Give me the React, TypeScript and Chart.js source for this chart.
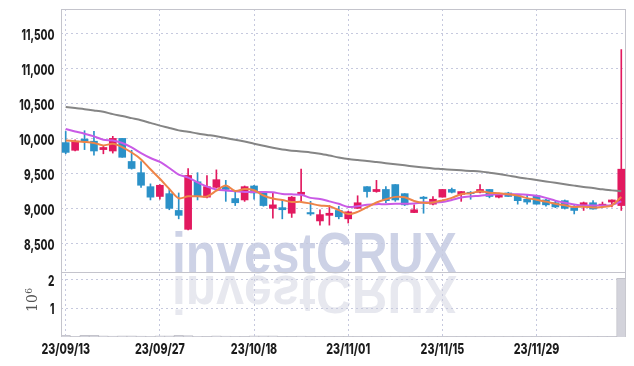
import React, { useEffect, useRef } from "react";
import { Chart, registerables } from "chart.js";
Chart.register(...registerables);

const dates = [
  "23/09/13", "23/09/14", "23/09/15", "23/09/18", "23/09/19", "23/09/20", "23/09/21", "23/09/22", "23/09/25", "23/09/26",
  "23/09/27", "23/10/04", "23/10/05", "23/10/06", "23/10/10", "23/10/11", "23/10/12", "23/10/13", "23/10/16", "23/10/17",
  "23/10/18", "23/10/19", "23/10/20", "23/10/23", "23/10/24", "23/10/25", "23/10/26", "23/10/27", "23/10/30", "23/10/31",
  "23/11/01", "23/11/02", "23/11/03", "23/11/06", "23/11/07", "23/11/08", "23/11/09", "23/11/10", "23/11/13", "23/11/14",
  "23/11/15", "23/11/16", "23/11/17", "23/11/20", "23/11/21", "23/11/22", "23/11/23", "23/11/24", "23/11/27", "23/11/28",
  "23/11/29", "23/11/30", "23/12/01", "23/12/04", "23/12/05", "23/12/06", "23/12/07", "23/12/08", "23/12/11", "23/12/12",
];

const openP = [9940, 9830, 9990, 9960, 9840, 9820, 10000, 9670, 9510, 9310, 9170, 9210, 8970, 8700, 9380, 9160, 9300, 9310, 9140, 9120, 9320, 9230, 9000, 9010, 8930, 9200, 8940, 8820, 8900, 8970, 8850, 9000, 9310, 9240, 9270, 9340, 9210, 8940, 9160, 9060, 9160, 9270, 9200, 9230, 9230, 9270, 9160, 9220, 9180, 9130, 9180, 9120, 9080, 9110, 9010, 9040, 9080, 9040, 9090, 9040];
const highP = [10100, 9980, 10110, 10100, 9900, 10030, 10000, 9830, 9670, 9350, 9340, 9270, 9220, 9570, 9510, 9470, 9550, 9400, 9240, 9320, 9330, 9240, 9220, 9120, 9170, 9560, 9100, 8980, 9040, 9030, 8960, 9180, 9310, 9400, 9310, 9340, 9210, 9050, 9170, 9170, 9270, 9290, 9240, 9240, 9340, 9270, 9220, 9230, 9200, 9200, 9190, 9130, 9110, 9120, 9040, 9090, 9110, 9090, 9120, 11270];
const lowP = [9780, 9820, 9840, 9760, 9780, 9790, 9730, 9560, 9300, 9120, 9130, 8980, 8850, 8690, 9120, 9150, 9290, 9100, 9040, 9100, 9130, 9030, 8860, 8850, 8870, 9090, 8900, 8760, 8760, 8850, 8790, 9000, 9160, 9230, 9080, 9100, 9040, 8940, 8930, 9050, 9160, 9220, 9100, 9130, 9220, 9150, 9150, 9170, 9060, 9060, 9060, 9030, 9010, 8990, 8920, 8970, 8990, 9020, 9020, 8970];
const closeP = [9800, 9960, 9960, 9820, 9870, 10000, 9730, 9570, 9330, 9160, 9330, 9000, 8900, 9470, 9170, 9310, 9410, 9270, 9080, 9310, 9220, 9040, 9050, 8980, 9160, 9230, 8920, 8910, 8930, 8880, 8950, 9080, 9240, 9270, 9110, 9120, 9050, 8980, 9140, 9130, 9270, 9230, 9240, 9210, 9270, 9170, 9190, 9170, 9110, 9090, 9060, 9050, 9020, 9000, 8970, 9080, 8990, 9060, 9120, 9560];

const ma5 = [9970, 9960, 9950, 9935, 9900, 9922, 9876, 9798, 9700, 9558, 9424, 9278, 9144, 9172, 9174, 9170, 9252, 9326, 9248, 9276, 9258, 9184, 9140, 9120, 9090, 9092, 9068, 9040, 9030, 8974, 8918, 8950, 9016, 9084, 9130, 9164, 9158, 9106, 9080, 9084, 9114, 9150, 9202, 9216, 9244, 9224, 9216, 9202, 9182, 9146, 9124, 9096, 9066, 9044, 9020, 9024, 9012, 9020, 9044, 9162];
const ma20 = [10134, 10100, 10067, 10029, 9981, 9971, 9934, 9871, 9791, 9720, 9663, 9577, 9481, 9440, 9370, 9310, 9270, 9255, 9245, 9235, 9235, 9235, 9230, 9205, 9200, 9195, 9150, 9135, 9100, 9065, 9020, 9030, 9050, 9060, 9060, 9065, 9065, 9070, 9085, 9085, 9090, 9120, 9155, 9170, 9180, 9195, 9200, 9200, 9200, 9195, 9180, 9150, 9110, 9080, 9055, 9040, 9040, 9040, 9050, 9100];
const ma60 = [10449, 10433, 10418, 10400, 10380, 10347, 10320, 10290, 10260, 10222, 10183, 10150, 10115, 10095, 10070, 10050, 10030, 10005, 9980, 9955, 9924, 9895, 9865, 9840, 9825, 9812, 9800, 9780, 9755, 9728, 9705, 9690, 9678, 9662, 9646, 9630, 9615, 9598, 9583, 9570, 9562, 9552, 9543, 9535, 9527, 9510, 9490, 9468, 9445, 9425, 9405, 9385, 9365, 9345, 9325, 9306, 9290, 9272, 9257, 9243];

const volume = [60000, 20000, 55000, 55000, 40000, 35000, 40000, 40000, 35000, 25000, 45000, 40000, 60000, 50000, 25000, 15000, 40000, 35000, 20000, 15000, 45000, 40000, 45000, 15000, 12000, 30000, 12000, 10000, 10000, 12000, 15000, 10000, 12000, 10000, 8000, 10000, 8000, 10000, 8000, 8000, 10000, 8000, 8000, 8000, 10000, 8000, 6000, 8000, 8000, 6000, 8000, 8000, 6000, 6000, 8000, 6000, 6000, 8000, 10000, 2050000];

const priceTicks = [8500, 9000, 9500, 10000, 10500, 11000, 11500];
const volTicks = [1000000, 2000000];
const volTickLabels = ["1", "2"];

const UP = "#e2195f";
const DOWN = "#2b91c8";
const GRID = "#c6c9de";
const FRAME = "#c4c4cc";
const LABEL_FONT = "800 15px Inter, 'Liberation Sans', sans-serif";

const watermark = {
  id: "watermark",
  beforeDraw(chart: any) {
    const ctx = chart.ctx;
    const text = "investCRUX";
    ctx.save();
    ctx.font = "bold 58px 'Liberation Sans', Arial, sans-serif";
    const w = ctx.measureText(text).width;
    const sx = 285 / w;
    ctx.fillStyle = "#cdd2e6";
    ctx.textBaseline = "alphabetic";
    ctx.translate(172, 273);
    ctx.scale(sx, 1);
    ctx.fillText(text, 0, 0);
    ctx.restore();
    ctx.save();
    ctx.font = "bold 58px 'Liberation Sans', Arial, sans-serif";
    ctx.fillStyle = "#e7e8ef";
    ctx.textBaseline = "alphabetic";
    ctx.translate(172, 276);
    ctx.scale(sx, -0.92);
    ctx.fillText(text, 0, 0);
    ctx.restore();
  },
};

function drawScaled(ctx: any, text: string, x: number, y: number, sx: number, align: "right" | "center") {
  const w = ctx.measureText(text).width * sx;
  const x0 = align === "right" ? x - w : x - w / 2;
  ctx.save();
  ctx.translate(x0, y);
  ctx.scale(sx, 1);
  ctx.fillText(text, 0, 0);
  ctx.restore();
}

const frames = {
  id: "frames",
  beforeDatasetsDraw(chart: any) {
    const ctx = chart.ctx;
    const { left, right } = chart.chartArea;
    const ys = chart.scales.y;
    const yv = chart.scales.yVol;
    ctx.save();
    ctx.strokeStyle = FRAME;
    ctx.lineWidth = 1;
    ctx.strokeRect(Math.round(left) + 0.5, Math.round(ys.top) + 0.5, Math.round(right - left) - 1, Math.round(ys.bottom - ys.top));
    ctx.strokeRect(Math.round(left) + 0.5, Math.round(yv.top) + 0.5, Math.round(right - left) - 1, Math.round(yv.bottom - yv.top) - 1);
    ctx.restore();
  },
  afterDraw(chart: any) {
    const ctx = chart.ctx;
    const ys = chart.scales.y;
    const yv = chart.scales.yVol;
    const xs = chart.scales.x;
    ctx.save();
    ctx.fillStyle = "#1c1c1c";
    ctx.textBaseline = "alphabetic";
    ctx.font = LABEL_FONT;
    const sy = 35.3 / ctx.measureText("10,000").width;
    priceTicks.forEach((v) => {
      drawScaled(ctx, v.toLocaleString("en-US"), 54.5, ys.getPixelForValue(v) + 6.5, sy, "right");
    });
    volTicks.forEach((v, i) => {
      drawScaled(ctx, volTickLabels[i], 54.5, yv.getPixelForValue(v) + 6, sy, "right");
    });
    const sxx = 50 / ctx.measureText("23/09/27").width;
    dates.forEach((d, i) => {
      if (i % 10 === 0) drawScaled(ctx, d, xs.getPixelForValue(i), 354, sxx, "center");
    });
    ctx.restore();

    ctx.save();
    ctx.translate(37, 312);
    ctx.rotate(-Math.PI / 2);
    ctx.fillStyle = "#555";
    ctx.textBaseline = "alphabetic";
    ctx.font = "14px 'DejaVu Serif', serif";
    ctx.fillText("10", 0, 0);
    const w = ctx.measureText("10").width;
    ctx.font = "9px 'DejaVu Serif', serif";
    ctx.fillText("6", w + 0.5, -5);
    ctx.restore();
  },
};

export default function App() {
  const ref = useRef<HTMLCanvasElement>(null);
  useEffect(() => {
    const idx = dates.map((_, i) => i);
    const bodies = idx.map((i) => [openP[i], closeP[i]]);
    const wicks = idx.map((i) => [lowP[i], highP[i]]);
    const colors = idx.map((i) => (closeP[i] >= openP[i] ? UP : DOWN));
    const chart = new Chart(ref.current!, {
      type: "bar",
      data: {
        labels: dates,
        datasets: [
          { type: "line", label: "MA5", data: ma5, yAxisID: "y", borderColor: "#ee8448", borderWidth: 2, pointRadius: 0, tension: 0.3, order: 0 },
          { type: "line", label: "MA20", data: ma20, yAxisID: "y", borderColor: "#c95ae6", borderWidth: 2, pointRadius: 0, tension: 0.3, order: 0 },
          { type: "line", label: "MA60", data: ma60, yAxisID: "y", borderColor: "#858585", borderWidth: 2, pointRadius: 0, tension: 0.3, order: 0 },
          { type: "bar", label: "body", data: bodies as any, yAxisID: "y", backgroundColor: colors, borderWidth: 0, barThickness: 7, grouped: false, minBarLength: 1, order: 1 },
          { type: "bar", label: "wick", data: wicks as any, yAxisID: "y", backgroundColor: colors, borderWidth: 0, barThickness: 1, grouped: false, order: 2 },
          { type: "bar", label: "volume", data: volume, yAxisID: "yVol", backgroundColor: "#d3d3db", borderColor: "#c2c2ca", borderWidth: 1, barPercentage: 1, categoryPercentage: 1, grouped: false, order: 3 },
        ],
      },
      options: {
        animation: false,
        responsive: false,
        devicePixelRatio: 1,
        layout: { padding: { top: 9, right: 8, left: 0, bottom: 0 } },
        plugins: { legend: { display: false }, tooltip: { enabled: false } },
        scales: {
          x: {
            type: "category",
            offset: true,
            grid: { offset: false, color: GRID, drawTicks: false },
            border: { display: false, dash: [2, 3] },
            ticks: { display: false, autoSkip: false },
            afterBuildTicks: (s: any) => {
              s.ticks = s.ticks.filter((t: any) => t.value % 10 === 0);
            },
            afterFit: (s: any) => {
              s.height = 29;
            },
          },
          yVol: {
            type: "linear",
            position: "left",
            stack: "panes",
            stackWeight: 65,
            min: 0,
            max: 2270000,
            grid: { color: GRID, drawTicks: false },
            border: { display: false, dash: [2, 3] },
            ticks: { display: false },
            afterBuildTicks: (s: any) => {
              s.ticks = volTicks.map((v) => ({ value: v }));
            },
            afterFit: (s: any) => {
              s.width = 61;
            },
          },
          y: {
            type: "linear",
            position: "left",
            stack: "panes",
            stackWeight: 263,
            min: 8090,
            max: 11850,
            grid: { color: GRID, drawTicks: false },
            border: { display: false, dash: [2, 3] },
            ticks: { display: false },
            afterBuildTicks: (s: any) => {
              s.ticks = priceTicks.map((v) => ({ value: v }));
            },
            afterFit: (s: any) => {
              s.width = 61;
            },
          },
        },
      } as any,
      plugins: [watermark, frames],
    });
    return () => chart.destroy();
  }, []);
  return (
    <div style={{ position: "absolute", left: 0, top: 0, width: 634, height: 366 }}>
      <canvas ref={ref} width={634} height={366} style={{ display: "block" }} />
    </div>
  );
}
